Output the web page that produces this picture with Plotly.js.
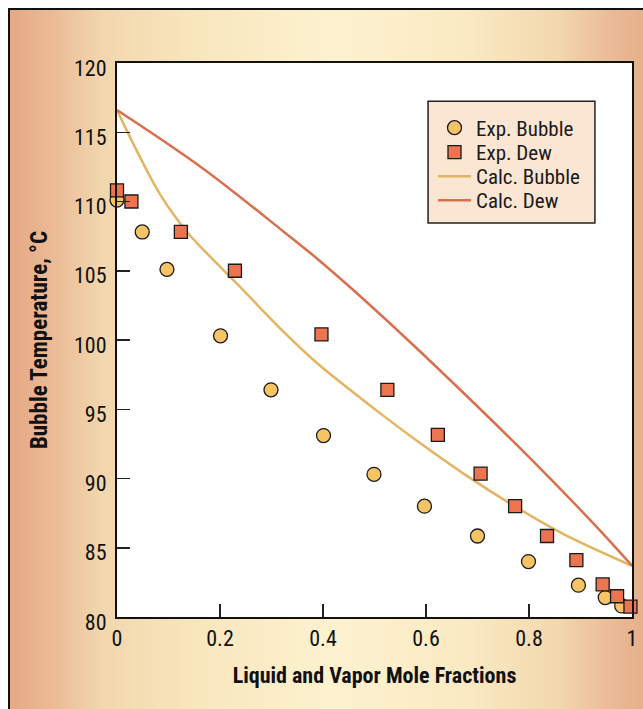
<!DOCTYPE html>
<html>
<head>
<meta charset="utf-8">
<script src="https://cdn.plot.ly/plotly-3.0.1.min.js"></script>
<style>
  html, body { margin: 0; padding: 0; width: 643px; height: 709px; overflow: hidden; background: #ffffff; }
  #bg {
    position: absolute; left: 8px; top: 8px; width: 650px; height: 720px;
    border-left: 2px solid #111; border-top: 2px solid #111;
    background: linear-gradient(to right, #e4a885 0%, #eab994 6%, #f2d6ad 14%, #f8e6bd 28%, #fdf2cf 50%, #faeac3 70%, #f3d8ae 84%, #eab995 93%, #e5aa86 100%);
  }
  #chart { position: absolute; left: 0; top: 0; width: 643px; height: 709px; }
</style>
</head>
<body>
<div id="bg"></div>
<div id="chart"></div>
<script>
// Experimental bubble points (liquid mole fraction, temperature °C)
const expBubbleX = [0, 0.049, 0.097, 0.201, 0.299, 0.401, 0.499, 0.597, 0.700, 0.799, 0.896, 0.948, 0.980];
const expBubbleT = [110.1, 107.8, 105.1, 100.3, 96.4, 93.1, 90.3, 88.0, 85.85, 84.0, 82.3, 81.4, 80.8];

// Experimental dew points (vapor mole fraction, temperature °C)
const expDewX = [0, 0.028, 0.124, 0.229, 0.397, 0.525, 0.623, 0.706, 0.773, 0.835, 0.892, 0.943, 0.971, 0.997];
const expDewT = [110.8, 110.0, 107.8, 105.0, 100.4, 96.4, 93.15, 90.35, 88.0, 85.85, 84.1, 82.35, 81.5, 80.75];

// Calculated bubble curve
const calcBubbleX = [0, 0.042, 0.084, 0.136, 0.2, 0.245, 0.326, 0.391, 0.456, 0.52, 0.585, 0.675, 0.772, 0.869, 1.0];
const calcBubbleT = [116.6, 113.4, 110.5, 107.8, 105.3, 103.6, 100.5, 98.25, 96.3, 94.45, 92.65, 90.3, 88.0, 85.95, 83.7];

// Calculated dew curve
const calcDewX = [0, 0.168, 0.326, 0.391, 0.456, 0.559, 0.675, 0.804, 0.934, 1.0];
const calcDewT = [116.6, 112.35, 107.75, 105.8, 103.7, 100.2, 96.1, 91.4, 86.4, 83.7];

const seriesNames = ['Exp. Bubble', 'Exp. Dew', 'Calc. Bubble', 'Calc. Dew'];
const yTickVals = [80, 85, 90, 95, 100, 105, 110, 115, 120];
const xTickVals = [0, 0.2, 0.4, 0.6, 0.8, 1];
const xTickText = ['0', '0.2', '0.4', '0.6', '0.8', '1'];

const narrow = '"Roboto Condensed", "Liberation Sans Narrow", "DejaVu Sans Condensed", "Arial Narrow", sans-serif';

const traces = [
  {
    x: calcBubbleX, y: calcBubbleT, name: seriesNames[2], mode: 'lines', legend: 'legend3',
    line: { color: '#e3b462', width: 2.5, shape: 'spline', smoothing: 1 }
  },
  {
    x: calcDewX, y: calcDewT, name: seriesNames[3], mode: 'lines', legend: 'legend4',
    line: { color: '#d8704f', width: 2.5, shape: 'spline', smoothing: 1 }
  },
  {
    x: expBubbleX, y: expBubbleT, name: seriesNames[0], mode: 'markers', legend: 'legend', cliponaxis: false,
    marker: { symbol: 'circle', size: 14, color: '#f6c465', line: { color: '#1a1a1a', width: 1.3 } }
  },
  {
    x: expDewX, y: expDewT, name: seriesNames[1], mode: 'markers', legend: 'legend2', cliponaxis: false,
    marker: { symbol: 'square', size: 13, color: '#ec7550', line: { color: '#1a1a1a', width: 1.3 } }
  }
];

function legendAt(yc) {
  return {
    x: 0.6136, y: yc, xanchor: 'left', yanchor: 'middle',
    bgcolor: 'rgba(0,0,0,0)', borderwidth: 0,
    font: { family: narrow, size: 21, color: '#1a1a1a' },
    itemwidth: 33
  };
}

const layout = {
  width: 643, height: 709,
  margin: { l: 117, r: 11, t: 63, b: 92 },
  paper_bgcolor: 'rgba(0,0,0,0)',
  plot_bgcolor: '#ffffff',
  font: { family: narrow, color: '#111111', size: 22 },
  showlegend: true,
  legend: legendAt(0.8827),
  legend2: legendAt(0.8384),
  legend3: legendAt(0.7951),
  legend4: legendAt(0.7518),
  shapes: [
    { type: 'rect', xref: 'paper', yref: 'paper', x0: 0.604, x1: 0.928, y0: 0.711, y1: 0.931,
      fillcolor: '#fae6d3', line: { color: '#222222', width: 1.5 }, layer: 'below' }
  ],
  xaxis: {
    range: [0, 1], tickvals: xTickVals, ticktext: xTickText,
    showgrid: false, zeroline: false,
    showline: true, linecolor: '#111111', linewidth: 2, mirror: true,
    ticks: 'inside', ticklen: 13, tickwidth: 1.5, tickcolor: '#222222',
    ticklabelstandoff: 1,
    tickfont: { family: narrow, size: 22, color: '#111111' },
    title: { text: 'Liquid and Vapor Mole Fractions', font: { family: narrow, size: 22, color: '#111111', weight: 'bold' }, standoff: 17 }
  },
  yaxis: {
    range: [80, 120], tickvals: yTickVals,
    showgrid: false, zeroline: false,
    showline: true, linecolor: '#111111', linewidth: 2, mirror: true,
    ticks: 'inside', ticklen: 13, tickwidth: 1.5, tickcolor: '#222222',
    tickfont: { family: narrow, size: 22, color: '#111111' },
    ticklabelstandoff: 4, ticklabelshift: 5,
    title: { text: 'Bubble Temperature, °C', font: { family: narrow, size: 23, color: '#111111', weight: 'bold' }, standoff: 20 }
  }
};

Plotly.newPlot('chart', traces, layout, { displayModeBar: false, staticPlot: true });
</script>
</body>
</html>
